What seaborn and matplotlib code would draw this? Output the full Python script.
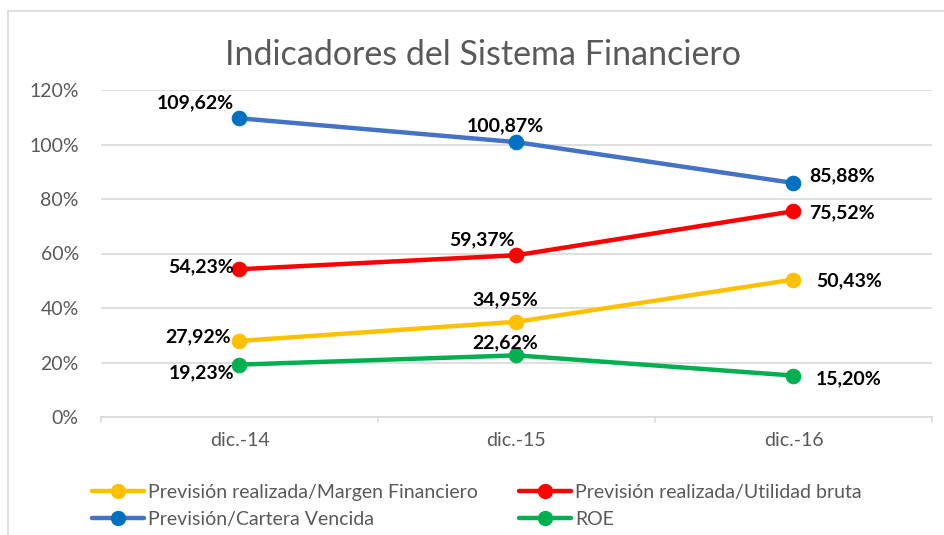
import matplotlib
matplotlib.use("Agg")
import matplotlib.pyplot as plt
import seaborn as sns
import pandas as pd
from matplotlib.lines import Line2D

categories = ["dic.-14", "dic.-15", "dic.-16"]
series_names = ["Previsión realizada/Margen Financiero",
                "Previsión realizada/Utilidad bruta",
                "Previsión/Cartera Vencida",
                "ROE"]
margen = [27.92, 34.95, 50.43]
utilidad = [54.23, 59.37, 75.52]
cartera = [109.62, 100.87, 85.88]
roe = [19.23, 22.62, 15.20]
yticks = [0, 20, 40, 60, 80, 100, 120]

values = [margen, utilidad, cartera, roe]
line_colors = ["#FFC000", "#FF0000", "#4472C4", "#00B050"]
marker_colors = ["#FFC000", "#FF0000", "#0070C0", "#00B050"]
# label offsets in points (dx, dy) for each point
offsets = [
    [(-30, 3), (-8, 16), (40, -1)],
    [(-28, 2), (-25, 11), (35, -1)],
    [(-32, 11), (-8, 12), (35, 5)],
    [(-27, -6), (-8, 9), (40, -2)],
]

sns.set_theme(style="white")
plt.rcParams["font.family"] = ["Lato", "DejaVu Sans"]

rows = []
for name, vals in zip(series_names, values):
    for i, (c, v) in enumerate(zip(categories, vals)):
        rows.append({"serie": name, "cat": c, "pos": i, "val": v})
df = pd.DataFrame(rows)

fig = plt.figure(figsize=(9.45, 5.35), dpi=100)
ax = fig.add_axes([101/945, 1-417/535, (932-101)/945, (417-90)/535])

for name, lc, mc, offs in zip(series_names, line_colors, marker_colors, offsets):
    sub = df[df["serie"] == name]
    sns.lineplot(data=sub, x="pos", y="val", ax=ax, color=lc, linewidth=3.2,
                 marker="o", markersize=10.5, markerfacecolor=mc,
                 markeredgecolor=mc, legend=False, zorder=3)
    for (_, r), (dx, dy) in zip(sub.iterrows(), offs):
        ax.annotate(f"{r['val']:.2f}%".replace(".", ","), (r["pos"], r["val"]),
                    xytext=(dx, dy), textcoords="offset points",
                    ha="center", va="center", fontsize=14,
                    fontweight="bold", color="black", zorder=4)

ax.set_xlim(-0.5, 2.5)
ax.set_ylim(0, 120)
ax.set_yticks(yticks)
ax.set_yticklabels([f"{t}%" for t in yticks], fontsize=14, color="#595959")
ax.set_xticks(range(len(categories)))
ax.set_xticklabels(categories, fontsize=14, color="#595959")
ax.tick_params(axis="both", length=0)
ax.tick_params(axis="y", pad=16)
ax.tick_params(axis="x", pad=11)
ax.set_xlabel("")
ax.set_ylabel("")
ax.grid(axis="y", color="#D9D9D9", linewidth=1.2)
ax.set_axisbelow(True)
for s in ["top", "right", "left"]:
    ax.spines[s].set_visible(False)
ax.spines["bottom"].set_color("#D9D9D9")
ax.spines["bottom"].set_linewidth(1.2)
# category boundary ticks
for xb in [-0.5, 0.5, 1.5, 2.5]:
    ax.plot([xb, xb], [0, -1.8], color="#D9D9D9", linewidth=1.2, clip_on=False)

fig.text(483/945, 1-55/535, "Indicadores del Sistema Financiero", ha="center",
         va="center", fontsize=24.5, color="#595959")

handles = []
order = [0, 2, 1, 3]
for i in order:
    handles.append(Line2D([0], [0], color=line_colors[i], linewidth=3.2,
                          marker="o", markersize=10, markerfacecolor=marker_colors[i],
                          markeredgecolor=marker_colors[i], label=series_names[i]))
fig.legend(handles=handles, ncol=2, loc="center left",
           bbox_to_anchor=(84/945, 1-506/535), frameon=False, fontsize=14,
           labelcolor="#595959", handlelength=2.7, handletextpad=0.2,
           columnspacing=2.1, labelspacing=0.5, borderaxespad=0)

# chart border (partially cropped)
fig.add_artist(Line2D([8/945, 8/945], [0, 1-11/535], color="#D9D9D9", linewidth=1.2))
fig.add_artist(Line2D([8/945, 1], [1-11/535, 1-11/535], color="#D9D9D9", linewidth=1.2))

fig.savefig("out.png", dpi=100, facecolor="white")
